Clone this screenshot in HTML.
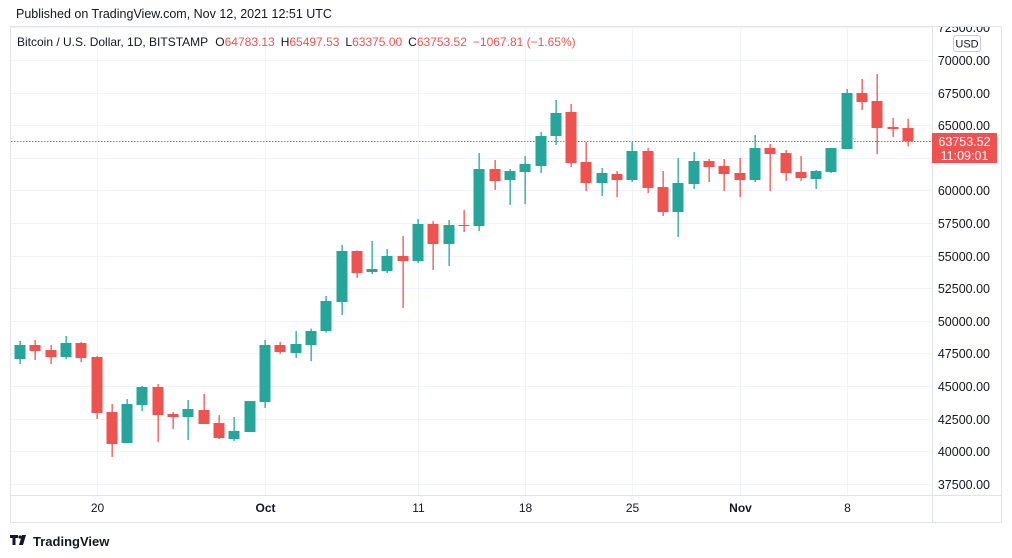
<!DOCTYPE html>
<html><head><meta charset="utf-8"><style>
html,body{margin:0;padding:0;background:#fff;width:1012px;height:558px;overflow:hidden}
svg{display:block;font-family:"Liberation Sans","DejaVu Sans",sans-serif}
</style></head><body>
<svg id="chart" width="1012" height="558">
<defs><clipPath id="plotclip"><rect x="10" y="27" width="992" height="496"/></clipPath></defs>
<text x="16" y="18" font-size="12.5" fill="#131722">Published on TradingView.com, Nov 12, 2021 12:51 UTC</text>
<rect x="10.5" y="26.5" width="991" height="496" fill="none" stroke="#e0e3eb"/>
<g id="grid"></g>
<line x1="932.5" y1="27" x2="932.5" y2="522" stroke="#e0e3eb"/>
<line x1="11" y1="495.5" x2="1001" y2="495.5" stroke="#e0e3eb"/>
<g id="candles"></g>
<g id="axes" clip-path="url(#plotclip)"></g>
<text x="17" y="46" font-size="12" fill="#131722">Bitcoin / U.S. Dollar, 1D, BITSTAMP <tspan dx="4">O</tspan><tspan fill="#ef5350">64783.13</tspan><tspan dx="6">H</tspan><tspan fill="#ef5350">65497.53</tspan><tspan dx="6">L</tspan><tspan fill="#ef5350">63375.00</tspan><tspan dx="6">C</tspan><tspan fill="#ef5350">63753.52</tspan><tspan dx="6" fill="#ef5350">−1067.81 (−1.65%)</tspan></text>
<rect x="953.5" y="35.5" width="27" height="16" rx="3" fill="#fff" stroke="#c9ccd6"/>
<text x="967" y="47.5" font-size="11" fill="#131722" text-anchor="middle">USD</text>
<g>
<path d="M10 535h8v3h-2.5v7h-3v-7H10z M19 545l3-10h4l-3 10z" fill="#131722"/>
<circle cx="20" cy="537" r="1.6" fill="#131722"/>
<text x="33" y="546" font-size="13" font-weight="bold" fill="#131722">TradingView</text>
</g>
</svg>
<script>
const dates=["Sep15","Sep16","Sep17","Sep18","Sep19","Sep20","Sep21","Sep22","Sep23","Sep24","Sep25","Sep26","Sep27","Sep28","Sep29","Sep30","Oct1","Oct2","Oct3","Oct4","Oct5","Oct6","Oct7","Oct8","Oct9","Oct10","Oct11","Oct12","Oct13","Oct14","Oct15","Oct16","Oct17","Oct18","Oct19","Oct20","Oct21","Oct22","Oct23","Oct24","Oct25","Oct26","Oct27","Oct28","Oct29","Oct30","Oct31","Nov1","Nov2","Nov3","Nov4","Nov5","Nov6","Nov7","Nov8","Nov9","Nov10","Nov11","Nov12"];
const opens=[47069,48143,47760,47223,48297,47223,43004,40628,43541,44922,42851,42621,43158,42161,40934,41471,43771,48143,47530,48143,49217,51441,55352,53742,53819,54968,54585,57422,55888,57346,57269,61640,60797,61410,61871,64171,66012,62177,60567,61257,60797,63020,60260,58343,60490,62254,61871,61334,60797,63250,62867,61410,60874,61410,63174,67469,66855,64861,64783];
const highs=[48450,48527,48143,48833,48374,47300,43618,44002,44999,45152,43004,43925,44385,42774,42621,43848,48527,48374,49217,49400,51901,55812,55400,56118,55505,56502,57806,57652,57729,58496,62867,62331,61640,62637,64478,66932,66625,63711,61717,61487,63711,63250,61487,62484,62944,62407,62407,62484,64248,63557,63097,62637,61564,63250,67776,68542,68926,65552,65497];
const lows=[46686,46993,46686,47069,46839,42468,39554,40628,43081,40704,41701,40858,42085,40934,40781,41471,43311,47453,47146,46900,49100,50444,53282,53589,53665,50981,54432,53895,54202,56808,56885,60030,58880,58956,61334,63481,61794,59953,59570,59493,60644,59800,58036,56425,60107,60644,59953,59493,60644,59953,60720,60720,60107,61334,63174,66165,62790,64094,63375];
const closes=[48143,47683,47223,48297,47146,42928,40551,43618,44922,42774,42621,43234,42085,41011,41548,43848,48143,47606,48221,49217,51518,55352,53665,53972,54968,54585,57422,55888,57346,57269,61640,60720,61487,62024,64171,65935,62101,60567,61334,60797,63020,60183,58343,60567,62254,61794,61257,60797,63250,62790,61334,60950,61487,63250,67469,66779,64785,64708,63753];
const priceTicks=[72500,70000,67500,65000,62500,60000,57500,55000,52500,50000,47500,45000,42500,40000,37500];
const timeLabels=["20","Oct","11","18","25","Nov","8"];
const timeLabelIdx=[5,16,26,33,40,47,54];
const lastPrice=63753.52;
const countdown="11:09:01";

const NS="http://www.w3.org/2000/svg";
function y(p){return 60+(70000-p)/2500*32.6;}
function x(i){return 20+i*15.31;}
function mk(tag,attrs,parent){const e=document.createElementNS(NS,tag);for(const k in attrs)e.setAttribute(k,attrs[k]);parent.appendChild(e);return e;}
const grid=document.getElementById('grid'),cg=document.getElementById('candles'),ax=document.getElementById('axes');
priceTicks.forEach(p=>{
  const yy=Math.round(y(p))+0.5;
  if(yy>27&&yy<495){const l=mk('line',{x1:11,x2:932,y1:yy,y2:yy,stroke:'#f0f3fa'},grid);
  
  }
  const t=mk('text',{x:990,y:yy+4.5,'font-size':12.5,fill:'#131722','text-anchor':'end'},ax);
  t.textContent=p.toFixed(2);
  
  
});
timeLabelIdx.forEach((i,k)=>{
  const xx=Math.round(x(i))+0.5;
  const l=mk('line',{x1:xx,x2:xx,y1:27,y2:495,stroke:'#f0f3fa'},grid);
  
  
  const t=mk('text',{x:xx,y:512,'font-size':12,fill:'#131722','text-anchor':'middle','font-weight':timeLabels[k]==='Oct'||timeLabels[k]==='Nov'?'bold':'normal'},ax);
  t.textContent=timeLabels[k];
  
  
});
dates.forEach((d,i)=>{
  const up=closes[i]>=opens[i];const col=up?'#26a69a':'#ef5350';
  const cx=Math.round(x(i));
  const g=mk('g',{},cg);
  
  
  mk('rect',{x:cx-0.5,y:y(highs[i]),width:1.3,height:Math.max(1,y(lows[i])-y(highs[i])),fill:col},g);
  const top=y(Math.max(opens[i],closes[i])),bot=y(Math.min(opens[i],closes[i]));
  mk('rect',{x:cx-5.5,y:top,width:11,height:Math.max(1,bot-top),fill:col},g);
});
const ly=Math.round(y(lastPrice))+0.5;
const dl=mk('line',{x1:11,x2:932,y1:ly,y2:ly,stroke:'#ef5350','stroke-dasharray':'1.5 1.5'},ax);


const box=mk('rect',{x:932,y:ly-8.5,width:65,height:30,fill:'#ef5350'},ax);


const t1=mk('text',{x:964.5,y:ly+4.5,'font-size':12.5,fill:'#fff','text-anchor':'middle'},ax);
t1.textContent=lastPrice.toFixed(2);


const t2=mk('text',{x:964.5,y:ly+18.5,'font-size':12.5,fill:'#fff','text-anchor':'middle'},ax);
t2.textContent=countdown;


</script>
</body></html>
